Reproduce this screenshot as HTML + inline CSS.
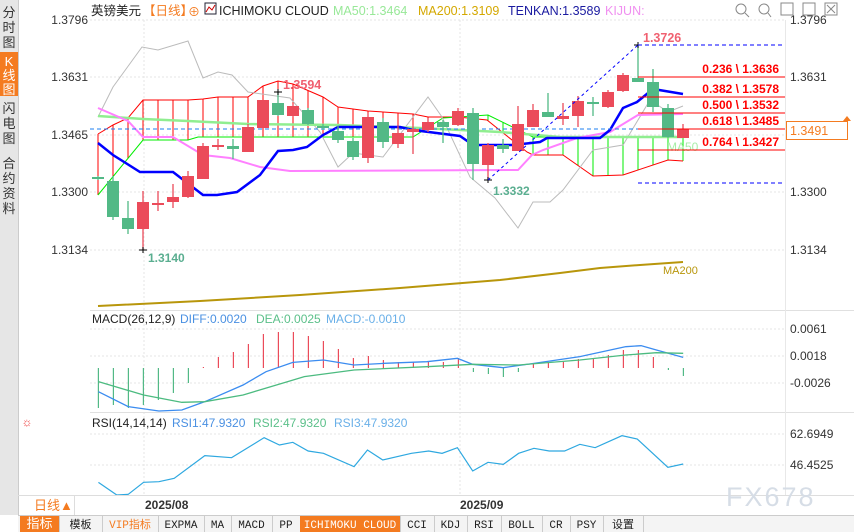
<!DOCTYPE html>
<html><head><meta charset="utf-8">
<style>
body{margin:0;width:854px;height:532px;overflow:hidden;background:#fff;font-family:"Liberation Sans","Noto Sans CJK SC",sans-serif;}
svg{position:absolute;left:0;top:0}
</style></head><body>
<svg id="s" width="854" height="532" xmlns="http://www.w3.org/2000/svg" font-family="Liberation Sans, Noto Sans CJK SC, sans-serif">
<rect x="0" y="0" width="854" height="532" fill="#fff"/>
<rect x="0" y="0" width="18" height="515" fill="#e6e6e6"/>
<rect x="0" y="52" width="18" height="44" fill="#f47b20"/>
<g font-size="13" fill="#333" text-anchor="middle">
<text x="9" y="17">分</text><text x="9" y="32">时</text><text x="9" y="47">图</text>
<text x="9" y="66" fill="#fff">K</text><text x="9" y="80" fill="#fff">线</text><text x="9" y="94" fill="#fff">图</text>
<text x="9" y="113">闪</text><text x="9" y="128">电</text><text x="9" y="143">图</text>
<text x="9" y="168">合</text><text x="9" y="183">约</text><text x="9" y="198">资</text><text x="9" y="213">料</text>
</g>
<line x1="18.5" y1="0" x2="18.5" y2="515" stroke="#ccc"/>
<text x="91" y="15" font-size="12.5" fill="#222">英镑美元</text>
<text x="143" y="15" font-size="12.5" fill="#f47b20">【日线】</text>
<text x="188" y="16" font-size="12" fill="#f47b20">⊕</text>
<rect x="205" y="3" width="11" height="11" fill="#fff" stroke="#223" />
<polyline points="206,12 209,7 212,10 215,5" fill="none" stroke="#c00"/>
<text x="219" y="15" font-size="12.5" fill="#222">ICHIMOKU CLOUD</text>
<text x="333" y="15" font-size="12.5" fill="#98e898">MA50:1.3464</text>
<text x="418" y="15" font-size="12.5" fill="#d4a800">MA200:1.3109</text>
<text x="508" y="15" font-size="12.5" fill="#1a1aa0">TENKAN:1.3589</text>
<text x="605" y="15" font-size="12.5" fill="#f090f0">KIJUN:</text>
<g stroke="#888" fill="none">
<circle cx="741" cy="9" r="5"/><line x1="745" y1="13" x2="749" y2="17"/>
<circle cx="764" cy="9" r="5"/><line x1="768" y1="13" x2="771" y2="17"/>
<rect x="781" y="3" width="12" height="12"/><rect x="803" y="3" width="12" height="12"/><rect x="825" y="3" width="12" height="12"/>
<line x1="827" y1="5" x2="835" y2="13"/><line x1="835" y1="5" x2="827" y2="13"/>
</g>
<g stroke="#e4e4e4" stroke-dasharray="2,2">
<line x1="90" y1="20" x2="785" y2="20"/><line x1="90" y1="77" x2="785" y2="77"/><line x1="90" y1="135" x2="785" y2="135"/>
<line x1="90" y1="192" x2="785" y2="192"/><line x1="90" y1="250" x2="785" y2="250"/>
<line x1="90" y1="329" x2="785" y2="329"/><line x1="90" y1="356" x2="785" y2="356"/><line x1="90" y1="383" x2="785" y2="383"/>
<line x1="90" y1="434" x2="785" y2="434"/><line x1="90" y1="465" x2="785" y2="465"/>
<line x1="144" y1="20" x2="144" y2="495"/><line x1="460" y1="20" x2="460" y2="495"/>
</g>
<line x1="90" y1="310.5" x2="854" y2="310.5" stroke="#e0e0e0"/>
<line x1="90" y1="412.5" x2="854" y2="412.5" stroke="#e0e0e0"/>
<line x1="785.5" y1="20" x2="785.5" y2="495" stroke="#e8e8e8"/>
<g font-size="12" fill="#333">
<text x="790" y="24">1.3796</text><text x="790" y="81">1.3631</text><text x="790" y="139">1.3465</text>
<text x="790" y="196">1.3300</text><text x="790" y="254">1.3134</text>
<text x="790" y="333">0.0061</text><text x="790" y="360">0.0018</text><text x="790" y="387">-0.0026</text>
<text x="790" y="438">62.6949</text><text x="790" y="469">46.4525</text>
</g>
<g font-size="12" fill="#333" text-anchor="end">
<text x="88" y="24">1.3796</text><text x="88" y="81">1.3631</text><text x="88" y="139">1.3465</text>
<text x="88" y="196">1.3300</text><text x="88" y="254">1.3134</text>
</g>
<g id="main"></g>
<rect x="786.5" y="121.5" width="61" height="18" fill="#fff" stroke="#f47b20"/>
<text x="790" y="135" font-size="12.5" fill="#f47b20">1.3491</text>
<polygon points="843,121 847,116 851,121" fill="#f47b20"/>
<text x="92" y="323" font-size="12" fill="#222">MACD(26,12,9)</text>
<text x="180" y="323" font-size="12" fill="#4a90e2">DIFF:0.0020</text>
<text x="256" y="323" font-size="12" fill="#5cc08a">DEA:0.0025</text>
<text x="326" y="323" font-size="12" fill="#6ab0e8">MACD:-0.0010</text>
<text x="27" y="426" font-size="12" fill="#e33" text-anchor="middle">☼</text>
<text x="92" y="427" font-size="12" fill="#222">RSI(14,14,14)</text>
<text x="172" y="427" font-size="12" fill="#4a90e2">RSI1:47.9320</text>
<text x="253" y="427" font-size="12" fill="#5cc08a">RSI2:47.9320</text>
<text x="334" y="427" font-size="12" fill="#6ab0e8">RSI3:47.9320</text>
<line x1="18" y1="495.5" x2="854" y2="495.5" stroke="#ddd"/>
<line x1="74.5" y1="495" x2="74.5" y2="515" stroke="#ddd"/>
<text x="34" y="510" font-size="13" fill="#f47b20">日线▲</text>
<text x="145" y="509" font-size="12" font-weight="bold" fill="#333">2025/08</text>
<text x="460" y="509" font-size="12" font-weight="bold" fill="#333">2025/09</text>
<text x="726" y="506" font-size="27" fill="#d6dde6" letter-spacing="2">FX678</text>
<rect x="18" y="515" width="836" height="17" fill="#f4f4f4"/>
<line x1="18" y1="515.5" x2="854" y2="515.5" stroke="#ccc"/>
<g id="tb" font-size="11.5"></g>
</svg>
<script>
const NS="http://www.w3.org/2000/svg",m=document.getElementById('main');
function el(t,a,p){const e=document.createElementNS(NS,t);for(const k in a)e.setAttribute(k,a[k]);(p||m).appendChild(e);return e;}
function pl(pts,c,w,extra){const a={points:pts.map(p=>p.join(',')).join(' '),fill:'none',stroke:c,'stroke-width':w};Object.assign(a,extra||{});return el('polyline',a);}
function lerp(pts,x){for(let i=0;i<pts.length-1;i++){if(x>=pts[i][0]&&x<=pts[i+1][0]){const t=(x-pts[i][0])/(pts[i+1][0]-pts[i][0]||1);return pts[i][1]+t*(pts[i+1][1]-pts[i][1]);}}return pts[pts.length-1][1];}
const X=i=>98+15*i;
pl([[98,306],[200,301],[300,295],[400,288],[500,280],[560,273],[600,268],[640,265],[683,262]],'#b8960b',2);
el('text',{x:663,y:274,'font-size':11,fill:'#b8960b'}).textContent='MA200';
const red=[[98,134],[113,125],[128,118],[143,100],[188,100],[203,99],[218,97],[248,97],[263,86],[278,81],[293,84],[323,97],[338,107],[353,109],[368,111],[383,112],[413,114],[428,117],[458,117],[487,120],[527,152],[533,155],[563,155],[593,176],[623,175],[668,160],[683,161]];
const grn=[[98,195],[143,140],[188,140],[198,137],[413,137],[443,118],[488,115],[533,137],[683,137]];
for(let i=0;i<40;i++){const x=X(i);const r=lerp(red,x),g=lerp(grn,x);el('line',{x1:x,y1:r,x2:x,y2:g,stroke:x<=430?'#f00':'#0e0','stroke-width':1});}
pl(red,'#f00',1);pl(grn,'#0e0',1);
pl([[98,117],[113,87],[142,47],[158,50],[188,41],[203,78],[218,72],[232,75],[248,92],[290,98],[320,132],[338,167],[353,153],[383,157],[428,97],[442,117],[470,177],[495,198],[518,228],[533,202],[550,202],[563,190],[593,150],[623,145],[650,100],[668,112],[683,106]],'#bbb',1);
pl([[98,116],[143,119],[188,121],[248,124],[338,125],[420,128],[500,132],[560,137],[683,137]],'#90ee90',2.5);
el('text',{x:667,y:151,'font-size':12,fill:'#a8eea8'}).textContent='MA50';
pl([[98,108],[128,121],[143,137],[173,137],[203,155],[230,158],[260,167],[290,171],[518,170],[532,155],[543,150],[577,138],[610,132],[638,115],[683,114]],'#ff80ff',2);
pl([[98,143],[113,155],[140,172],[173,172],[203,195],[217,195],[237,192],[260,175],[278,151],[293,150],[307,147],[323,135],[338,127],[400,127],[413,130],[460,136],[473,145],[513,145],[540,142],[547,138],[600,138],[610,130],[623,108],[637,102],[653,89],[683,94]],'#0000ff',2.5);
el('line',{x1:90,y1:129,x2:785,y2:129,stroke:'#1e7ff0','stroke-dasharray':'4,3'});
const C=[[177,179,176,180,'g'],[181,217,176,220,'g'],[218,229,201,234,'g'],[202,229,191,250,'r'],[203,204,191,211,'r'],[197,202,184,208,'r'],[176,197,171,198,'r'],[146,179,143,179,'r'],[145,146,139,150,'r'],[146,149,139,159,'g'],[127,152,124,152,'r'],[100,128,100,128,'r'],[103,115,92,116,'g'],[106,116,104,117,'r'],[110,124,108,125,'g'],[126,128,124,130,'g'],[131,140,126,143,'g'],[141,157,138,160,'g'],[117,158,113,163,'r'],[122,142,118,148,'g'],[133,144,126,148,'r'],[129,132,125,154,'r'],[122,130,118,132,'r'],[122,127,120,143,'g'],[111,125,108,126,'r'],[113,164,108,180,'g'],[145,165,143,180,'r'],[145,149,139,153,'g'],[124,151,106,151,'r'],[110,127,104,127,'r'],[112,117,93,117,'g'],[116,119,103,125,'r'],[101,116,96,127,'r'],[102,104,97,116,'g'],[92,107,90,108,'r'],[75,91,73,92,'r'],[78,82,45,82,'g'],[82,107,69,112,'g'],[108,137,104,138,'g'],[129,138,124,138,'r']];
C.forEach((c,i)=>{const x=X(i),col=c[4]=='g'?'#52b986':'#eb4b5a';el('line',{x1:x,y1:c[2],x2:x,y2:c[3],stroke:col,'stroke-width':1.3});el('rect',{x:x-6,y:c[0],width:12,height:Math.max(2,c[1]-c[0]),fill:col});});
[[143,250],[278,92],[488,180],[638,45]].forEach(p=>{el('line',{x1:p[0]-4,y1:p[1],x2:p[0]+4,y2:p[1],stroke:'#000'});el('line',{x1:p[0],y1:p[1]-3,x2:p[0],y2:p[1]+3,stroke:'#000'});});
function tx(x,y,s,c,sz,b,anc){const t=el('text',{x:x,y:y,'font-size':sz||12.5,fill:c,'font-weight':b?'bold':'normal','text-anchor':anc||'start'});t.textContent=s;}
tx(283,89,'1.3594','#f06070',12.5,1);tx(148,262,'1.3140','#5aae90',12,1);tx(493,195,'1.3332','#5aae90',12,1);tx(643,42,'1.3726','#f06070',12.5,1);
el('line',{x1:488,y1:180,x2:638,y2:45,stroke:'#0000ff','stroke-dasharray':'3,3'});
el('line',{x1:638,y1:45,x2:785,y2:45,stroke:'#0000ff','stroke-dasharray':'4,3'});
el('line',{x1:638,y1:183,x2:785,y2:183,stroke:'#0000ff','stroke-dasharray':'4,3'});
[[77,'0.236 \\ 1.3636'],[97,'0.382 \\ 1.3578'],[113,'0.500 \\ 1.3532'],[129,'0.618 \\ 1.3485'],[150,'0.764 \\ 1.3427']].forEach(f=>{el('line',{x1:638,y1:f[0],x2:785,y2:f[0],stroke:'#f00'});tx(779,f[0]-4,f[1],'#f00',12,1,'end');});
// MACD
const XM=i=>98.4+15*i;
const H=[408,405,408,405,400,393,383,367,357,352,344,334,332,332,336,341,349,358,356,360,362,362,362,362,358,372,374,377,372,364,362,362,359,358,355,350,350,357,370,376];
H.forEach((y,i)=>{const x=XM(i);el('line',{x1:x,y1:368,x2:x,y2:y,stroke:y>368?'#52b986':'#eb4b5a','stroke-width':1.2});});
const mp=a=>a.map(p=>[90+p[0]/2.613,305+p[1]/3]);
pl(mp([[22,260],[100,305],[180,318],[240,315],[300,290],[400,240],[460,200],[530,172],[610,165],[690,180],[770,175],[880,170],[960,160],[1000,178],[1080,188],[1160,175],[1280,155],[1400,125],[1440,122],[1480,135],[1550,157]]),'#3b8cf0',1.3);
pl(mp([[22,230],[140,270],[240,292],[300,290],[400,270],[560,215],[690,195],[880,185],[1000,178],[1120,180],[1280,165],[1400,150],[1480,143],[1550,145]]),'#4cbb80',1.3);
pl(mp([[22,532],[70,570],[100,568],[140,532],[180,530],[220,520],[300,452],[370,458],[455,398],[495,420],[530,412],[570,438],[610,445],[690,485],[725,435],[765,465],[840,445],[885,438],[920,445],[960,428],[1000,498],[1040,472],[1080,478],[1120,445],[1160,430],[1200,438],[1240,438],[1280,418],[1320,428],[1390,392],[1430,402],[1510,487],[1550,477]]),'#2ea8e0',1.2);
const tb=document.getElementById('tb');
const B=[[20,39,'指标',1],[59,43,'模板',0],[102,56,'VIP指标',2],[158,46,'EXPMA',0],[204,27,'MA',0],[231,41,'MACD',0],[272,28,'PP',0],[300,100,'ICHIMOKU CLOUD',1],[400,34,'CCI',0],[434,33,'KDJ',0],[467,34,'RSI',0],[501,41,'BOLL',0],[542,28,'CR',0],[570,33,'PSY',0],[603,40,'设置',0]];
B.forEach(b=>{if(b[3]==1)el('rect',{x:b[0],y:516,width:b[1],height:16,fill:'#f47b20'},tb);el('line',{x1:b[0]+b[1]+.5,y1:516,x2:b[0]+b[1]+.5,y2:532,stroke:'#ccc'},tb);const t=el('text',{x:b[0]+b[1]/2,y:528,'text-anchor':'middle',fill:b[3]==1?'#fff':b[3]==2?'#f47b20':'#222','font-family':'Liberation Mono, Noto Sans CJK SC, monospace','font-size':b[3]==1&&b[2]=='指标'?13:11},tb);t.textContent=b[2];});
</script>
</body></html>
